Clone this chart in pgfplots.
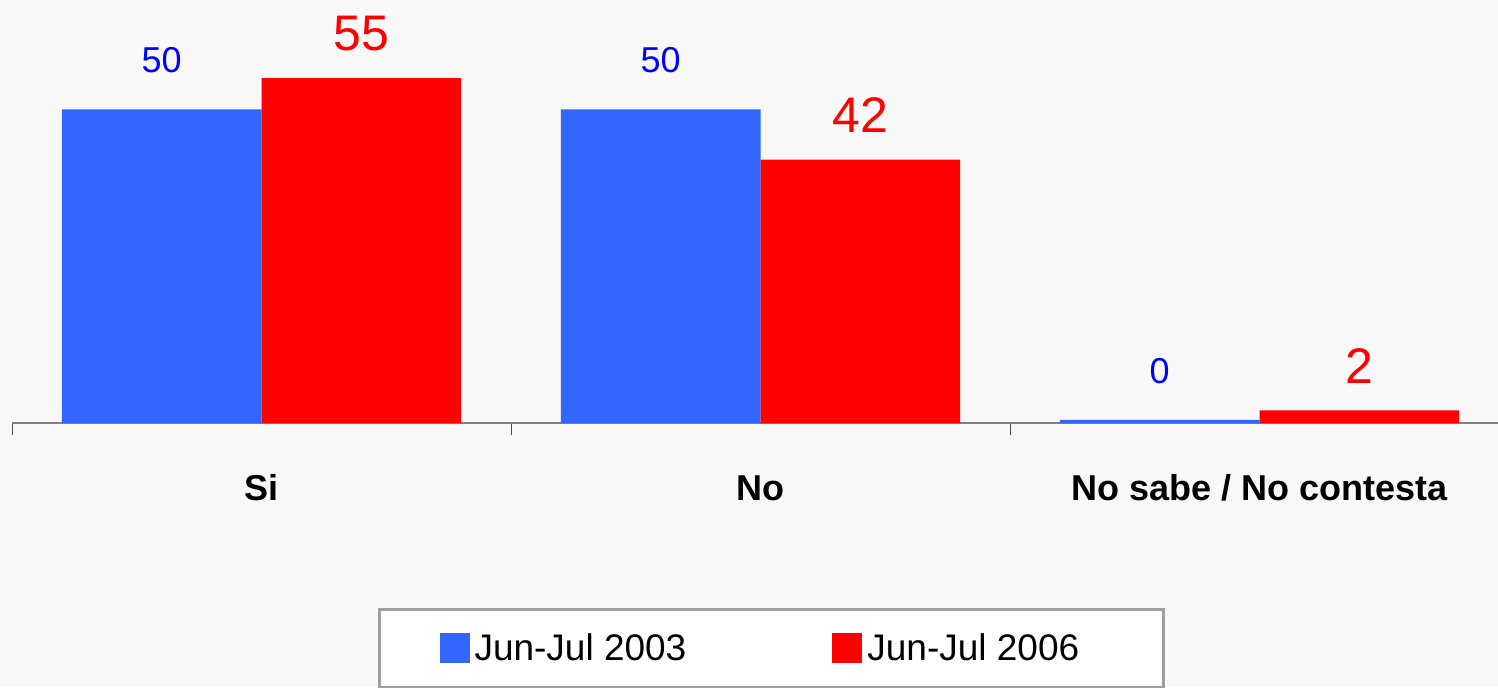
\documentclass[border=0pt]{standalone}
\usepackage{pgfplots}
\pgfplotsset{compat=1.18}
\usepackage{fontspec}
\setmainfont{Liberation Sans}
\definecolor{bg}{HTML}{F8F8F8}
\definecolor{barblue}{HTML}{3366FF}
\definecolor{barred}{HTML}{FF0000}
\definecolor{lblblue}{HTML}{0000FF}
\begin{document}
\begin{tikzpicture}
\path[use as bounding box, fill=bg] (0,0) rectangle (749pt,343.5pt);
\begin{axis}[
  at={(6pt,132pt)}, anchor=south west,
  scale only axis, width=748.5pt, height=211.5pt,
  xmin=-0.5, xmax=2.5, ymin=0, ymax=67.46,
  axis x line*=bottom, axis y line=none,
  x axis line style={-, draw=gray, line width=1pt},
  xtick={0,1,2}, xticklabels={Si,No,No sabe / No contesta},
  minor xtick={-0.5,0.5,1.5,2.5},
  major tick length=0pt, minor tick length=6pt,
  tick align=outside,
  minor tick style={draw=black!70, line width=0.5pt},
  xticklabel style={font=\fontsize{18}{20}\selectfont\bfseries, anchor=base, yshift=-38.5pt},
  ybar, bar width=0.4,
  clip=false,
  nodes near coords, point meta=explicit symbolic,
  legend columns=2,
  legend image code/.code={\fill[#1] (0pt,-7.5pt) rectangle (15pt,7.5pt);},
  legend style={at={(0.2445,-0.437)}, anchor=north west, draw=gray!75, line width=1.5pt, fill=white,
    inner xsep=30pt, inner ysep=12pt, font=\fontsize{18.5}{20}\selectfont,
    nodes={inner sep=0pt},
    /tikz/every odd column/.append style={column sep=2.5pt},
    /tikz/every even column/.append style={column sep=73pt}},
]
\addplot[fill=barblue, draw=none, bar shift=-0.2,
  every node near coord/.append style={font=\fontsize{18}{20}\selectfont, text=lblblue, anchor=south, inner sep=0pt, yshift=18pt}]
  coordinates {(0,50)[50] (1,50)[50] (2,0.5)[0]};
\addlegendentry{\rule[-10pt]{0pt}{1pt}Jun-Jul 2003}
\addplot[fill=barred, draw=none, bar shift=0.2,
  every node near coord/.append style={font=\fontsize{25}{28}\selectfont, text=barred, anchor=south, inner sep=0pt, yshift=13.5pt}]
  coordinates {(0,55)[55] (1,42)[42] (2,2)[2]};
\addlegendentry{Jun-Jul 2006\hspace*{12pt}}
\end{axis}
\end{tikzpicture}
\end{document}
